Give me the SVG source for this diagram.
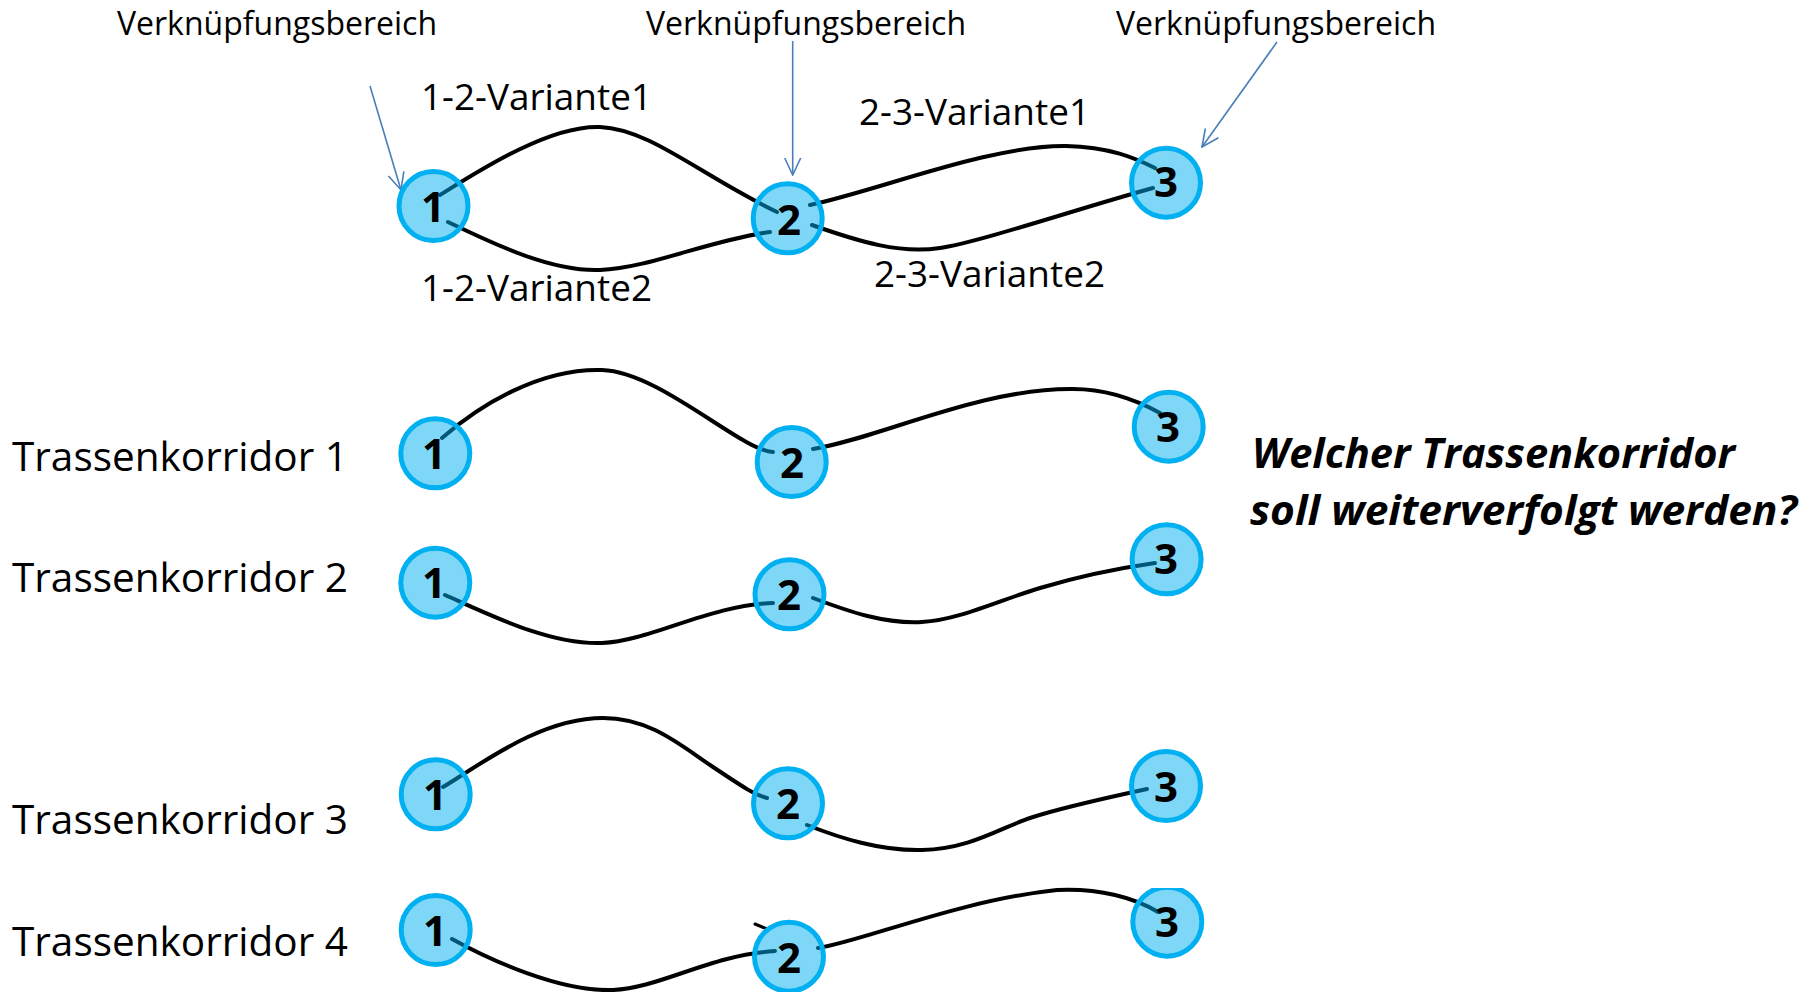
<svg xmlns="http://www.w3.org/2000/svg" width="1814" height="992" viewBox="0 0 1814 992">
<style>
.lbl{font-family:"Open Sans","Liberation Sans",sans-serif;fill:#000}
.num{font-family:"Open Sans","Liberation Sans",sans-serif;font-weight:700;font-size:42px;fill:#000;text-anchor:middle}
.route{fill:none;stroke:#000;stroke-width:4;stroke-linecap:round}
.node circle{fill:#00b0f0;fill-opacity:0.5;stroke:#00b0f0;stroke-width:5}
.ptr{fill:none;stroke:#4a7ebb;stroke-width:1.6}
.q{font-family:"Open Sans","Liberation Sans",sans-serif;font-weight:700;font-style:italic;font-size:42px;fill:#000}
</style>
<defs>
<marker id="ah" viewBox="0 0 20 20" refX="19" refY="10" markerWidth="20" markerHeight="20" markerUnits="userSpaceOnUse" orient="auto">
<path d="M2,2 L19,10 L2,18" fill="none" stroke="#4a7ebb" stroke-width="1.6"/>
</marker>
<clipPath id="clip53"><rect x="1120" y="888" width="100" height="100"/></clipPath>
</defs>
<rect width="1814" height="992" fill="#fff"/>

<g id="texts">
<text class="lbl" x="117" y="35" font-size="32" textLength="320" lengthAdjust="spacingAndGlyphs">Verknüpfungsbereich</text>
<text class="lbl" x="646" y="35" font-size="32" textLength="320" lengthAdjust="spacingAndGlyphs">Verknüpfungsbereich</text>
<text class="lbl" x="1116" y="35" font-size="32" textLength="320" lengthAdjust="spacingAndGlyphs">Verknüpfungsbereich</text>
<text class="lbl" x="421" y="110" font-size="36" textLength="231" lengthAdjust="spacingAndGlyphs">1-2-Variante1</text>
<text class="lbl" x="421" y="301" font-size="36" textLength="231" lengthAdjust="spacingAndGlyphs">1-2-Variante2</text>
<text class="lbl" x="859" y="125" font-size="36" textLength="231" lengthAdjust="spacingAndGlyphs">2-3-Variante1</text>
<text class="lbl" x="874" y="287" font-size="36" textLength="231" lengthAdjust="spacingAndGlyphs">2-3-Variante2</text>
<text class="lbl" x="12" y="471" font-size="40" textLength="336" lengthAdjust="spacingAndGlyphs">Trassenkorridor 1</text>
<text class="lbl" x="12" y="592" font-size="40" textLength="336" lengthAdjust="spacingAndGlyphs">Trassenkorridor 2</text>
<text class="lbl" x="12" y="834" font-size="40" textLength="336" lengthAdjust="spacingAndGlyphs">Trassenkorridor 3</text>
<text class="lbl" x="12" y="956" font-size="40" textLength="336" lengthAdjust="spacingAndGlyphs">Trassenkorridor 4</text>
<text class="q" x="1252" y="468" textLength="483" lengthAdjust="spacingAndGlyphs">Welcher Trassenkorridor</text>
<text class="q" x="1250" y="525" textLength="547" lengthAdjust="spacingAndGlyphs">soll weiterverfolgt werden?</text>
</g>

<g id="connectors">
<!-- top row -->
<path class="route" d="M440,195 C480,170 550,125 600,127 C650,129 700,175 777,212"/>
<path class="route" d="M448,222 C490,242 550,272 600,270 C650,268 710,240 770,232"/>
<path class="route" d="M810,205 C880,190 990,145 1066,146 C1110,147 1135,158 1155,168"/>
<path class="route" d="M812,225 C860,242 900,254 940,248 S1080,208 1153,188"/>
<!-- Trassenkorridor 1 -->
<path class="route" d="M442,438 C480,405 540,368 602,370 C660,372 740,450 773,452"/>
<path class="route" d="M813,449 C880,438 980,388 1073,389 C1110,389 1140,402 1160,413"/>
<!-- Trassenkorridor 2 -->
<path class="route" d="M445,595 C490,615 550,645 602,643 C650,641 710,605 773,603"/>
<path class="route" d="M813,598 C850,612 885,624 922,622 S1000,600 1040,588 S1120,568 1155,563"/>
<!-- Trassenkorridor 3 -->
<path class="route" d="M443,787 C480,765 540,718 603,718 C650,718 680,745 713,767 S755,795 767,798"/>
<path class="route" d="M807,825 C840,838 880,851 922,850 C970,849 1000,828 1030,818 S1110,797 1147,789"/>
<!-- Trassenkorridor 4 -->
<path class="route" d="M452,939 C490,960 560,992 613,990 C660,988 710,955 775,951"/>
<path class="route" d="M755,924 L767,929" style="stroke-width:3"/>
<path class="route" d="M818,948 C860,942 960,900 1057,890 C1100,888 1135,898 1158,912"/>
<!-- pointers -->
<line class="ptr" x1="370" y1="86" x2="401" y2="190" marker-end="url(#ah)"/>
<line class="ptr" x1="792.7" y1="41" x2="792.7" y2="175" marker-end="url(#ah)"/>
<line class="ptr" x1="1277" y1="42" x2="1202" y2="147" marker-end="url(#ah)"/>
</g>

<g id="n1a" class="node"><circle cx="433.5" cy="206" r="34.5"/><text class="num" x="433" y="222">1</text></g>
<g id="n2a" class="node"><circle cx="787.7" cy="218.3" r="34.5"/><text class="num" x="789" y="235">2</text></g>
<g id="n3a" class="node"><circle cx="1166" cy="182.7" r="34.5"/><text class="num" x="1166" y="197">3</text></g>

<g id="n1b" class="node"><circle cx="435.3" cy="453.3" r="34.5"/><text class="num" x="434" y="469">1</text></g>
<g id="n2b" class="node"><circle cx="791.7" cy="462" r="34.5"/><text class="num" x="792" y="478">2</text></g>
<g id="n3b" class="node"><circle cx="1168.7" cy="426.7" r="34.5"/><text class="num" x="1168" y="442">3</text></g>

<g id="n1c" class="node"><circle cx="435.3" cy="582.7" r="34.5"/><text class="num" x="434" y="598">1</text></g>
<g id="n2c" class="node"><circle cx="789.5" cy="594.3" r="34.5"/><text class="num" x="789" y="610">2</text></g>
<g id="n3c" class="node"><circle cx="1166.6" cy="559.3" r="34.5"/><text class="num" x="1166" y="574">3</text></g>

<g id="n1d" class="node"><circle cx="435.7" cy="794.3" r="34.5"/><text class="num" x="435" y="810">1</text></g>
<g id="n2d" class="node"><circle cx="788" cy="803.3" r="34.5"/><text class="num" x="788" y="819">2</text></g>
<g id="n3d" class="node"><circle cx="1166" cy="786" r="34.5"/><text class="num" x="1166" y="802">3</text></g>

<g id="n1e" class="node"><circle cx="435.7" cy="930" r="34.5"/><text class="num" x="435" y="946">1</text></g>
<g id="n2e" class="node"><circle cx="789" cy="956.7" r="34.5"/><text class="num" x="789" y="973">2</text></g>
<g id="n3e" class="node"><circle cx="1167.3" cy="921.7" r="34.5" clip-path="url(#clip53)"/><text class="num" x="1167" y="937">3</text></g>
</svg>
